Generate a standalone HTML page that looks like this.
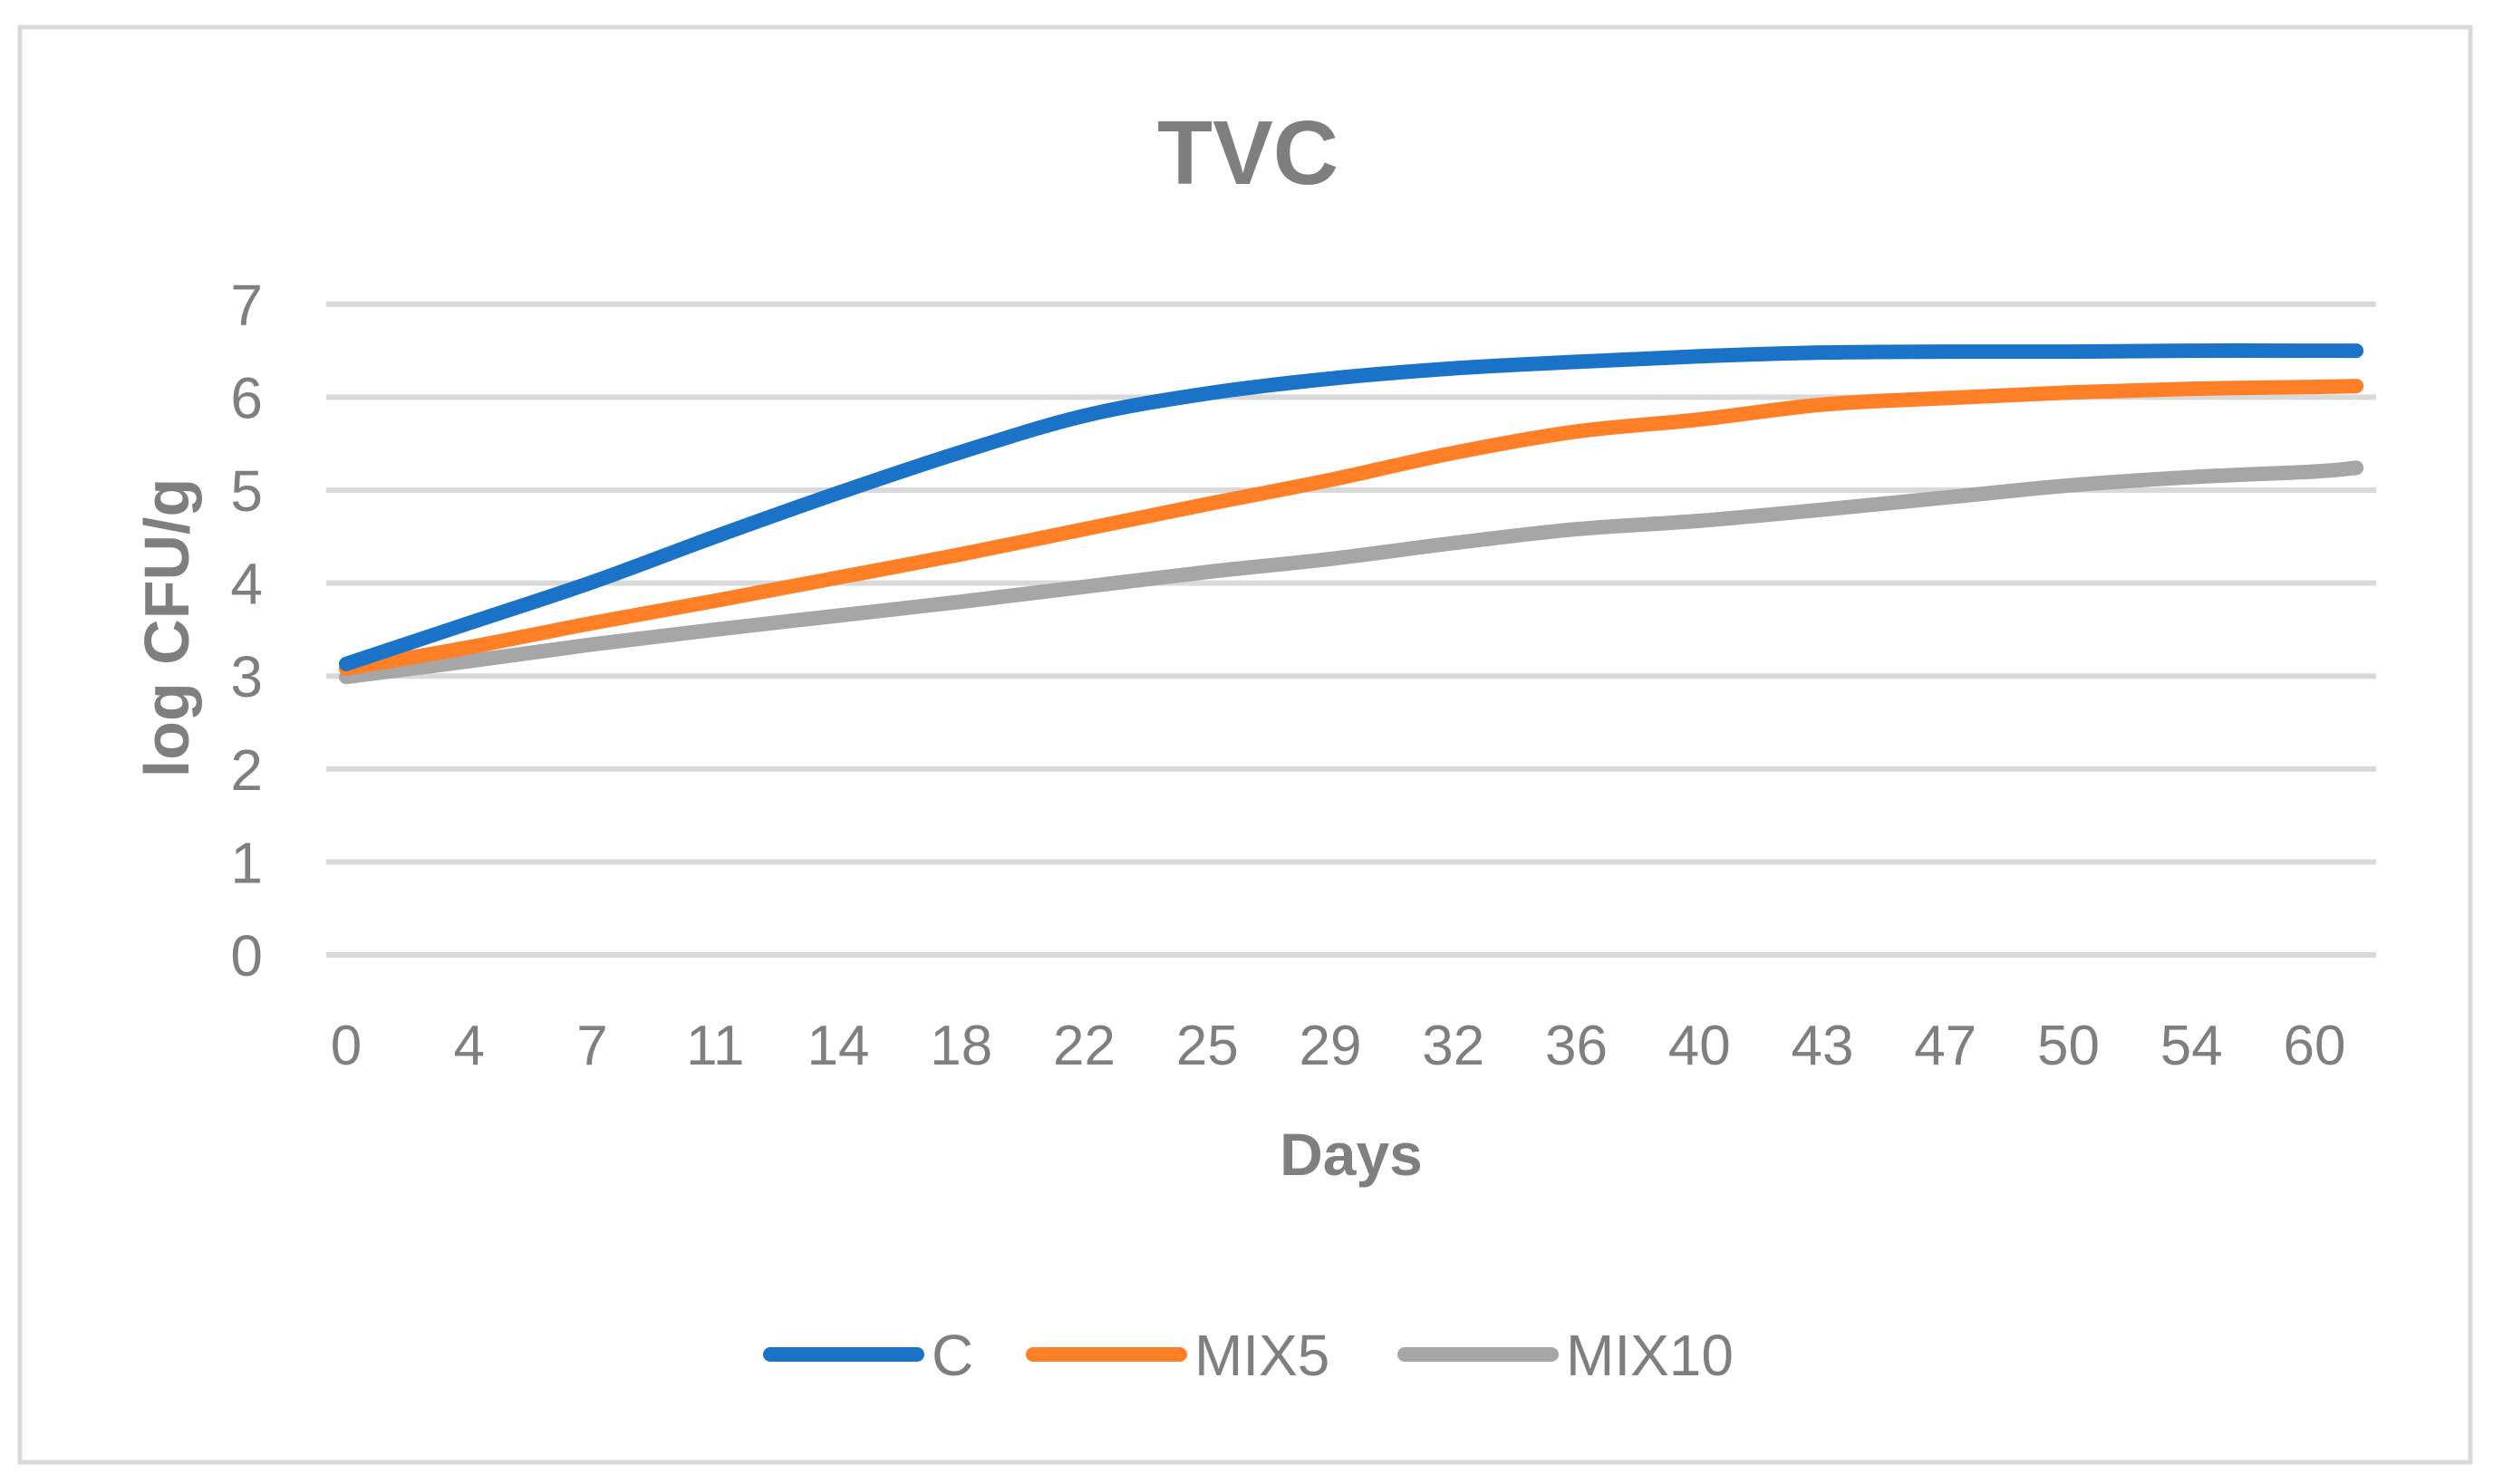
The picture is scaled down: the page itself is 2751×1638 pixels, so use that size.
<!DOCTYPE html>
<html><head><meta charset="utf-8"><style>
html,body{margin:0;padding:0;background:#fff}
svg{display:block}
text{font-family:"Liberation Sans",sans-serif;fill:#7f7f7f}
</style></head><body>
<svg id="chart" width="2751" height="1638" viewBox="0 0 2751 1638" xmlns="http://www.w3.org/2000/svg">
<rect x="22" y="30" width="2704" height="1584" fill="#fff" stroke="#d9d9d9" stroke-width="5"/>
<text x="1377" y="203" text-anchor="middle" font-size="100" font-weight="bold">TVC</text>
<g id="grid"></g>
<g id="yticks"></g>
<g id="xticks"></g>
<g id="series"></g>
<text transform="translate(208,693) rotate(-90)" text-anchor="middle" font-size="70" font-weight="bold">log CFU/g</text>
<text x="1491" y="1297" text-anchor="middle" font-size="66" font-weight="bold">Days</text>
<g>
<g><line x1="850" y1="1495" x2="1012" y2="1495" stroke="#1a73c6" stroke-width="16" stroke-linecap="round"/><text x="1028" y="1518" font-size="64">C</text></g>
<g><line x1="1140" y1="1495" x2="1302" y2="1495" stroke="#fe7f26" stroke-width="16" stroke-linecap="round"/><text x="1318" y="1518" font-size="64">MIX5</text></g>
<g><line x1="1550" y1="1495" x2="1712" y2="1495" stroke="#a6a6a6" stroke-width="16" stroke-linecap="round"/><text x="1728" y="1518" font-size="64">MIX10</text></g>
</g>
</svg>
<script>
const categories = ["0","4","7","11","14","18","22","25","29","32","36","40","43","47","50","54","60",""];
const catPos = [0,1,2,3,4,5,6,7,8,9,10,11,12,13,14,15,16,16.34];
const seriesC = [3.13,3.57,4.01,4.50,4.97,5.41,5.80,6.04,6.20,6.31,6.38,6.44,6.48,6.49,6.49,6.50,6.50,6.50];
const seriesMIX5 = [3.08,3.31,3.57,3.81,4.06,4.31,4.58,4.85,5.11,5.40,5.63,5.76,5.92,5.99,6.05,6.09,6.11,6.12];
const seriesMIX10 = [2.99,3.16,3.34,3.50,3.65,3.80,3.96,4.12,4.26,4.43,4.58,4.67,4.79,4.92,5.05,5.14,5.20,5.24];
const yTicks = [0,1,2,3,4,5,6,7];
const NS='http://www.w3.org/2000/svg';
function x(p){return 382 + p*135.75;}
function y(v){return 1054 - v*102.6;}
const grid=document.getElementById('grid'), yt=document.getElementById('yticks'), xt=document.getElementById('xticks'), sg=document.getElementById('series');
yTicks.forEach(t=>{
  const l=document.createElementNS(NS,'line');
  
  
  l.setAttribute('x1',360);l.setAttribute('x2',2622);l.setAttribute('y1',y(t));l.setAttribute('y2',y(t));
  l.setAttribute('stroke','#d9d9d9');l.setAttribute('stroke-width',6);
  grid.appendChild(l);
  const tx=document.createElementNS(NS,'text');
  
  
  tx.setAttribute('x',290);tx.setAttribute('y',y(t)+23);tx.setAttribute('text-anchor','end');tx.setAttribute('font-size',64);
  tx.textContent=t;yt.appendChild(tx);
});
categories.forEach((c,i)=>{
  if(!c) return;
  const tx=document.createElementNS(NS,'text');
  
  
  tx.setAttribute('x',x(catPos[i]));tx.setAttribute('y',1175);tx.setAttribute('text-anchor','middle');tx.setAttribute('font-size',62);
  tx.textContent=c;xt.appendChild(tx);
});
function smooth(pts){
  let d='M'+pts[0][0]+','+pts[0][1];
  for(let i=0;i<pts.length-1;i++){
    const p0=pts[i-1]||pts[i],p1=pts[i],p2=pts[i+1],p3=pts[i+2]||p2;
    const c1=[p1[0]+(p2[0]-p0[0])/6,p1[1]+(p2[1]-p0[1])/6];
    const c2=[p2[0]-(p3[0]-p1[0])/6,p2[1]-(p3[1]-p1[1])/6];
    d+=' C'+c1[0]+','+c1[1]+' '+c2[0]+','+c2[1]+' '+p2[0]+','+p2[1];
  }
  return d;
}
[[seriesMIX10,'#a6a6a6','line-mix10'],[seriesMIX5,'#fe7f26','line-mix5'],[seriesC,'#1a73c6','line-c']].forEach(([vals,col,nm])=>{
  const pts=vals.map((v,i)=>[x(catPos[i]),y(v)]);
  const p=document.createElementNS(NS,'path');
  
  
  p.setAttribute('d',smooth(pts));p.setAttribute('fill','none');p.setAttribute('stroke',col);
  p.setAttribute('stroke-width',16);p.setAttribute('stroke-linecap','round');p.setAttribute('stroke-linejoin','round');
  sg.appendChild(p);
});
</script>
</body></html>
